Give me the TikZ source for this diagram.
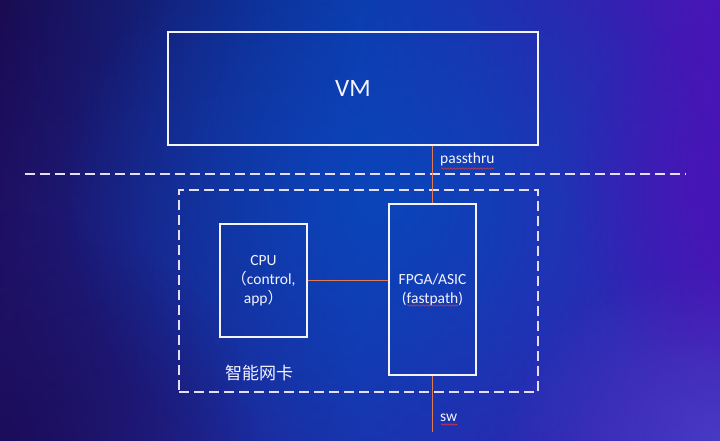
\documentclass[tikz,border=0pt]{standalone}
\usepackage{fontspec}
\setmainfont{Carlito}
\newfontfamily\cjk{Noto Sans CJK SC}
\usetikzlibrary{fadings,decorations.pathmorphing}
\definecolor{bgleft}{HTML}{1A0B52}
\definecolor{bgmid}{HTML}{0C3BAA}
\definecolor{bgright}{HTML}{4A14B6}
\definecolor{bgglow}{HTML}{0A46BC}
\definecolor{bgtop}{HTML}{3326B0}
\definecolor{bgbotr}{HTML}{4A48CA}
\definecolor{wire}{HTML}{E07A55}
\definecolor{dashc}{HTML}{E4DEF8}
\definecolor{txt}{HTML}{F4F4FF}
\definecolor{squig}{HTML}{D83A3A}
\tikzfading[name=softglow, inner color=transparent!0, outer color=transparent!100]
\tikzset{
  solidbox/.style={draw=txt, line width=1.4pt, inner sep=0pt, text=txt, align=center, font=\fontsize{15.5}{19}\selectfont},
  dashbox/.style={draw=dashc, line width=1.6pt, dash pattern=on 10pt off 5pt, inner sep=0pt},
  wireline/.style={draw=wire, line width=1.3pt},
  lbl/.style={text=txt, inner sep=0pt, font=\fontsize{15.5}{18}\selectfont},
  squiggle/.style={draw=squig, line width=0.6pt, decorate, decoration={snake, segment length=3pt, amplitude=0.7pt}}
}
\begin{document}
\begin{tikzpicture}[x=1pt,y=-1pt]
\useasboundingbox (0,0) rectangle (720,441);
% background
\shade[left color=bgleft, right color=bgright, middle color=bgmid] (0,0) rectangle (720,441);
\fill[bgtop, path fading=north, fill opacity=0.4] (0,0) rectangle (720,441);
\fill[bgglow, path fading=softglow, fill opacity=0.9] (390,200) ellipse (330 and 300);
\fill[bgbotr, path fading=softglow, fill opacity=0.7] (720,441) ellipse (220 and 180);
\fill[bgleft, path fading=softglow, fill opacity=0.8] (0,441) ellipse (260 and 230);
\fill[bgright, path fading=softglow, fill opacity=0.7] (700,190) ellipse (130 and 170);

% boxes
\node[solidbox, minimum width=370pt, minimum height=113pt, font=\fontsize{25}{28}\selectfont] (vm) at (353,88.5) {VM};
\node[dashbox, minimum width=359pt, minimum height=202pt] (nic) at (358.5,291) {};
\node[solidbox, minimum width=87pt, minimum height=113pt] (cpu) at (263.5,280.5) {CPU\\{\cjk （}control,\\app{\cjk ）}};
\node[solidbox, minimum width=87pt, minimum height=171pt] (fpga) at (432.5,289.5) {FPGA/ASIC\\(fastpath)};

% horizontal separator
\coordinate (hl) at (25,174);
\coordinate (hr) at (686,174);
\draw[dashc, line width=1.6pt, dash pattern=on 10pt off 5pt] (hl) -- (hr);

% connectors
\coordinate (swend) at (432.5,432);
\draw[wireline] (fpga.north) -- (fpga.north |- vm.south);
\draw[wireline] (fpga.south) -- (swend);
\draw[wireline] (cpu.east) -- (cpu.east -| fpga.west);

% labels
\node[lbl, anchor=base west] (pt) at (440,164) {passthru};
\node[lbl, anchor=base west] (sw) at (440,421) {sw};
\node[text=txt, inner sep=0pt, font=\cjk\fontsize{17}{20}\selectfont] (nl) at (259,373) {智能网卡};

% spell-check squiggles
\coordinate (s1a) at (441,168.5); \coordinate (s1b) at (494,168.5);
\coordinate (s2a) at (407,305.5); \coordinate (s2b) at (458,305.5);
\coordinate (s3a) at (441,424.5); \coordinate (s3b) at (457,424.5);
\draw[squiggle] (s1a) -- (s1b);
\draw[squiggle] (s2a) -- (s2b);
\draw[squiggle] (s3a) -- (s3b);
\end{tikzpicture}
\end{document}
